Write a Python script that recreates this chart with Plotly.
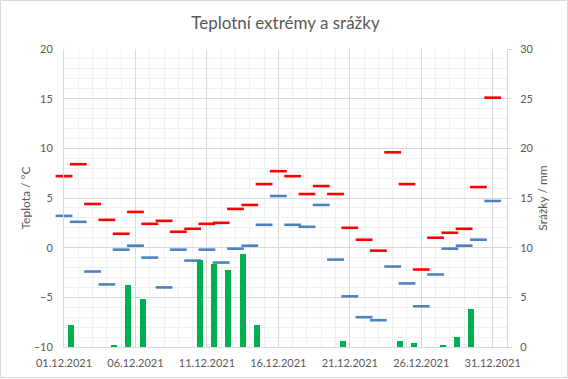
import plotly.graph_objects as go
import pandas as pd

# ---- data ----
dates = pd.date_range("2021-12-01", "2021-12-31", freq="D")
t_max = [7.2, 8.4, 4.4, 2.8, 1.4, 3.6, 2.4, 2.7, 1.6, 1.9, 2.4, 2.5, 3.9, 4.3, 6.4, 7.7,
         7.2, 5.4, 6.2, 5.4, 2.0, 0.8, -0.3, 9.6, 6.4, -2.2, 1.0, 1.5, 1.9, 6.1, 15.1]
t_min = [3.2, 2.6, -2.4, -3.7, -0.2, 0.2, -1.0, -4.0, -0.2, -1.3, -0.2, -1.5, -0.1, 0.2, 2.3, 5.2,
         2.3, 2.1, 4.3, -1.2, -4.9, -7.0, -7.3, -1.9, -3.6, -5.9, -2.7, -0.1, 0.2, 0.8, 4.7]
rain = [2.2, 0, 0, 0.2, 6.2, 4.8, 0, 0, 0, 8.8, 8.4, 7.8, 9.4, 2.2, 0, 0,
        0, 0, 0, 0.6, 0, 0, 0, 0.6, 0.4, 0, 0.2, 1.0, 3.8, 0, 0]

title_text = "Teplotní extrémy a srážky"
y_title = "Teplota / °C"
y2_title = "Srážky / mm"

DAY = 86400000
W, H = 568, 379
ML, MR, MT, MB = 64, 61, 49, 32
PW, PH = W - ML - MR, H - MT - MB
TXT = "#595959"
FONT = "Lato"

fig = go.Figure()
fig.add_trace(go.Bar(
    x=dates, y=rain, yaxis="y2", name="Srážky",
    marker=dict(color="#00b050", line=dict(width=0)),
    width=0.42 * DAY, xperiod=DAY, xperiodalignment="middle",
))
fig.add_trace(go.Scatter(
    x=dates, y=t_max, mode="markers", name="Max", cliponaxis=False,
    marker=dict(symbol="line-ew", size=12, line=dict(width=2.6, color="#ff0000")),
))
fig.add_trace(go.Scatter(
    x=dates, y=t_min, mode="markers", name="Min", cliponaxis=False,
    marker=dict(symbol="line-ew", size=12, line=dict(width=2.6, color="#4f81bd")),
))

fig.update_layout(
    width=W, height=H,
    margin=dict(l=ML, r=MR, t=MT, b=MB, autoexpand=False),
    paper_bgcolor="white", plot_bgcolor="white",
    showlegend=False,
    font=dict(family=FONT, color=TXT, size=11),
    title=dict(text=title_text, x=0.5, xref="paper", xanchor="center",
               y=1 - 23 / H, yref="container", yanchor="middle",
               font=dict(family=FONT, size=17, color=TXT)),
    bargap=0,
    xaxis=dict(
        type="date", range=["2021-12-01", "2022-01-01"], automargin=False,
        tick0="2021-12-01", dtick=5 * DAY, tickformat="%d.%m.%Y",
        showgrid=True, gridcolor="#d9d9d9", gridwidth=1,
        minor=dict(dtick=DAY, showgrid=True, gridcolor="#f0f0f0"),
        showline=True, linecolor="#d9d9d9", ticks="", zeroline=False,
        ticklabelstandoff=6,
        tickfont=dict(family=FONT, size=11, color=TXT),
    ),
    yaxis=dict(
        range=[-10, 20], dtick=5, showgrid=True, gridcolor="#d9d9d9", automargin=False,
        minor=dict(dtick=1, showgrid=True, gridcolor="#f0f0f0"),
        zeroline=False, showline=True, linecolor="#d9d9d9", ticks="",
        ticklabelstandoff=8,
        tickfont=dict(family=FONT, size=11, color=TXT),
        title=dict(text=y_title, font=dict(family=FONT, size=12, color=TXT), standoff=0),
    ),
    yaxis2=dict(
        overlaying="y", side="right", range=[0, 30], dtick=5, automargin=False,
        showgrid=False, zeroline=False, showline=True, linecolor="#d9d9d9",
        ticks="outside", ticklen=4, tickcolor="#d9d9d9",
        ticklabelstandoff=6,
        tickfont=dict(family=FONT, size=11, color=TXT),
        title=dict(text=y2_title, font=dict(family=FONT, size=12, color=TXT), standoff=6),
    ),
    shapes=[dict(
        type="rect", xref="paper", yref="paper",
        x0=(-ML + 0.5) / PW, x1=1 + (MR - 0.5) / PW,
        y0=(-MB + 1.5) / PH, y1=1 + (MT - 0.5) / PH,
        line=dict(color="#d9d9d9", width=1), layer="below",
    )],
)

fig.write_html(
    "out.html",
    config={"displayModeBar": False},
    post_script="document.body.style.margin='0';document.body.style.overflow='hidden';",
)
